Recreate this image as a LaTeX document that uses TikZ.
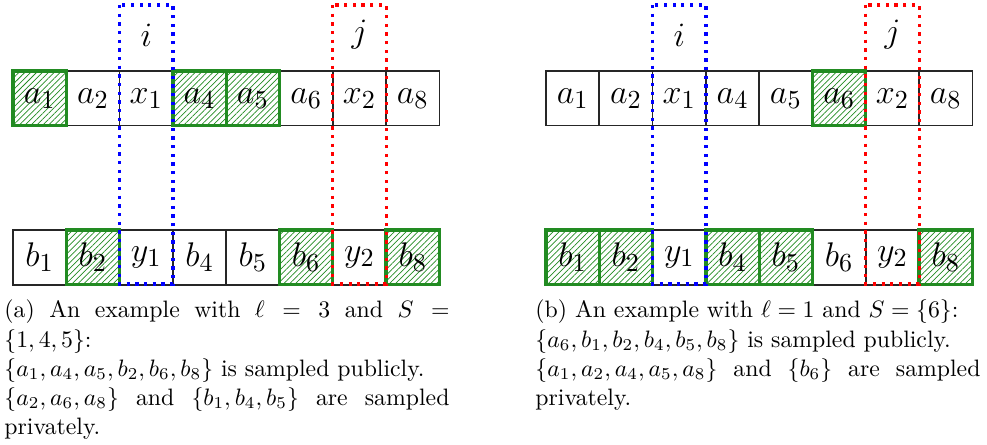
\documentclass[tikz,border=0pt]{standalone}
\usetikzlibrary{patterns.meta}
\definecolor{hgreen}{RGB}{34,139,34}
\definecolor{dblue}{RGB}{0,0,255}
\definecolor{dred}{RGB}{255,0,0}
\tikzset{
  cell/.style={draw=black!85, line width=0.75pt, minimum width=53.3*0.4211pt, minimum height=54.5*0.4211pt, inner sep=0pt, font=\fontsize{15.5pt}{18pt}\selectfont},
  hcell/.style={cell, draw=hgreen, line width=1.4pt, pattern={Lines[angle=45,distance=1.75pt,line width=0.3pt]}, pattern color=hgreen},
  dotbox/.style={line width=1.35pt, dash pattern=on 1.35pt off 2.3pt},
  lbl/.style={font=\fontsize{15.5pt}{18pt}\selectfont, inner sep=0pt},
  capt/.style={anchor=north west, inner sep=0pt, text width=445*0.4211pt, align=justify, font=\fontsize{10pt}{12.3pt}\selectfont}
}
\begin{document}
\begin{tikzpicture}[x=0.4211pt, y=-0.4211pt]
\useasboundingbox (0,0) rectangle (987,444);
% ---------- panel (a) ----------
\begin{scope}[shift={(13,0)}]
\node[cell]  (a2) at (1.5*53.3,98.3) {$a_2$};
\node[cell]  (x1) at (2.5*53.3,98.3) {$x_1$};
\node[cell]  (a6) at (5.5*53.3,98.3) {$a_6$};
\node[cell]  (x2) at (6.5*53.3,98.3) {$x_2$};
\node[cell]  (a8) at (7.5*53.3,98.3) {$a_8$};
\node[hcell] (a1) at (0.5*53.3,98.3) {$a_1$};
\node[hcell] (a4) at (3.5*53.3,98.3) {$a_4$};
\node[hcell] (a5) at (4.5*53.3,98.3) {$a_5$};
\node[cell]  (b1) at (0.5*53.3,257.4) {$b_1$};
\node[cell]  (y1) at (2.5*53.3,257.4) {$y_1$};
\node[cell]  (b4) at (3.5*53.3,257.4) {$b_4$};
\node[cell]  (b5) at (4.5*53.3,257.4) {$b_5$};
\node[cell]  (y2) at (6.5*53.3,257.4) {$y_2$};
\node[hcell] (b2) at (1.5*53.3,257.4) {$b_2$};
\node[hcell] (b6) at (5.5*53.3,257.4) {$b_6$};
\node[hcell] (b8) at (7.5*53.3,257.4) {$b_8$};
\node[lbl] (li) at (2.5*53.3,35) {$i$};
\node[lbl] (lj) at (6.5*53.3,35) {$j$};
\draw[dotbox, dblue] (2*53.3,5) rectangle (3*53.3,284);
\draw[dotbox, dred] (6*53.3,5) rectangle (7*53.3,284);
\end{scope}
\node[capt] (capa) at (4,299.5) {(a) An example with $\ell = 3$ and $S =$\linebreak $\{1, 4, 5\}$:\newline $\{a_1, a_4, a_5, b_2, b_6, b_8\}$ is sampled publicly.\newline $\{a_2, a_6, a_8\}$ and $\{b_1, b_4, b_5\}$ are sampled\linebreak privately.};
% ---------- panel (b) ----------
\begin{scope}[shift={(546,0)}]
\node[cell]  (ra1) at (0.5*53.3,98.3) {$a_1$};
\node[cell]  (ra2) at (1.5*53.3,98.3) {$a_2$};
\node[cell]  (rx1) at (2.5*53.3,98.3) {$x_1$};
\node[cell]  (ra4) at (3.5*53.3,98.3) {$a_4$};
\node[cell]  (ra5) at (4.5*53.3,98.3) {$a_5$};
\node[cell]  (rx2) at (6.5*53.3,98.3) {$x_2$};
\node[cell]  (ra8) at (7.5*53.3,98.3) {$a_8$};
\node[hcell] (ra6) at (5.5*53.3,98.3) {$a_6$};
\node[cell]  (ry1) at (2.5*53.3,257.4) {$y_1$};
\node[cell]  (rb6) at (5.5*53.3,257.4) {$b_6$};
\node[cell]  (ry2) at (6.5*53.3,257.4) {$y_2$};
\node[hcell] (rb1) at (0.5*53.3,257.4) {$b_1$};
\node[hcell] (rb2) at (1.5*53.3,257.4) {$b_2$};
\node[hcell] (rb4) at (3.5*53.3,257.4) {$b_4$};
\node[hcell] (rb5) at (4.5*53.3,257.4) {$b_5$};
\node[hcell] (rb8) at (7.5*53.3,257.4) {$b_8$};
\node[lbl] (rli) at (2.5*53.3,35) {$i$};
\node[lbl] (rlj) at (6.5*53.3,35) {$j$};
\draw[dotbox, dblue] (2*53.3,5) rectangle (3*53.3,284);
\draw[dotbox, dred] (6*53.3,5) rectangle (7*53.3,284);
\end{scope}
\node[capt] (capb) at (535,299.5) {(b) An example with $\ell = 1$ and $S = \{6\}$:\newline $\{a_6, b_1, b_2, b_4, b_5, b_8\}$ is sampled publicly.\newline $\{a_1, a_2, a_4, a_5, a_8\}$ and $\{b_6\}$ are sampled\linebreak privately.};
\end{tikzpicture}
\end{document}
